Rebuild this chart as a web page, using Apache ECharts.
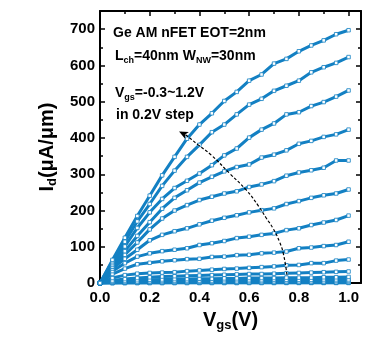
<!DOCTYPE html>
<html>
<head>
<meta charset="utf-8">
<script src="https://cdn.jsdelivr.net/npm/echarts@6/dist/echarts.min.js"></script>
<style>html,body{margin:0;padding:0;background:#fff}#c{width:389px;height:337px}</style>
</head>
<body>
<div id="c"></div>
<script>
const vds = [0,0.05,0.1,0.15,0.2,0.25,0.3,0.35,0.4,0.45,0.5,0.55,0.6,0.65,0.7,0.75,0.8,0.85,0.9,0.95,1.0];
const id_120 = [0,64,125,185,241,297,348,398,437,468,502,527,558,575,605,618,639,655,669,686,697];
const id_110 = [0,60,114,170,218,268,310,348,381,416,437,465,492,508,530,544,558,581,595,607,623];
const id_100 = [0,55,101,152,195,232,262,282,302,325,352,371,401,423,440,465,471,488,499,514,531];
const id_090 = [0,50,88,130,168,205,235,256,277,293,308,320,327,346,354,366,384,392,403,410,423];
const id_080 = [0,45,78,112,148,178,200,215,229,238,247,253,265,272,281,296,305,311,318,338,338];
const id_070 = [0,40,67,92,118,133,143,151,162,172,180,187,195,201,206,218,226,235,242,247,258];
const id_060 = [0,33,55,73,82,88,92,96,105,110,116,124,128,133,137,146,151,160,167,174,186];
const id_050 = [0,25,40,52,56,60,63,66,67,72,73,77,78,82,84,87,96,98,102,105,114];
const id_040 = [0,14,22,26,28,29,30,33,35,37,39,40,42,44,46,49,50,55,55,62,65];
const id_030 = [0,7,11,14,16,18,19,20,21,22,23,24,25,25,26,27,28,29,30,31,32];
const id_020 = [0,4,6,8,9,10,11,11,12,12,13,13,14,14,14,15,15,15,16,16,17];
const id_010 = [0,2,3,4,5,6,6,7,7,7,8,8,8,8,9,9,9,9,10,10,10];
const id_000 = [0,1,2,2,3,3,3,4,4,4,4,4,5,5,5,5,5,5,5,6,6];
const id_m10 = [0,0.5,1,1,1.5,1.5,1.5,2,2,2,2,2,2,2,2.5,2.5,2.5,2.5,2.5,2.5,3];
const id_m20 = [0,0.2,0.4,0.5,0.6,0.6,0.7,0.7,0.8,0.8,0.8,0.8,0.9,0.9,0.9,1,1,1,1,1,1];
const id_m30 = [0,0.1,0.1,0.2,0.2,0.2,0.2,0.3,0.3,0.3,0.3,0.3,0.3,0.3,0.3,0.4,0.4,0.4,0.4,0.4,0.4];
const curves = [id_m30,id_m20,id_m10,id_000,id_010,id_020,id_030,id_040,id_050,id_060,id_070,id_080,id_090,id_100,id_110,id_120];
// dashed arrow guide path (data coords)
const arrowX = [0.752,0.738,0.722,0.696,0.668,0.640,0.589,0.522,0.449,0.395,0.345,0.318];
const arrowY = [23,80,114,151,180,210,256,302,352,381,408,418];
const xTicks = ['0.0','0.2','0.4','0.6','0.8','1.0'];
const yTicks = ['0','100','200','300','400','500','600','700'];

const BLUE = '#1380c3';
const FONT = "'Liberation Sans', Arial, sans-serif";
const chart = echarts.init(document.getElementById('c'), null, {renderer:'canvas'});

const series = curves.map(c => ({
  type:'line', xAxisIndex:0, yAxisIndex:0,
  data: c.map((v,i)=>[vds[i], v]),
  symbol:'rect', symbolSize:3.5, showAllSymbol:true,
  lineStyle:{color:BLUE, width:3},
  itemStyle:{color:'#fff', borderColor:BLUE, borderWidth:0.8},
  emphasis:{disabled:true}, silent:true, z:2
}));
const arrData = arrowX.map((x,i)=>{
  if (i === arrowX.length-1) return {value:[x, arrowY[i]], symbol:'arrow', symbolSize:[6,9], symbolRotate:63};
  return {value:[x, arrowY[i]], symbol:'none'};
});
series.push({
  type:'line', data: arrData, smooth:true, showSymbol:true, symbol:'none',
  lineStyle:{color:'#000', width:1.2, type:[3,2]},
  itemStyle:{color:'#000'}, silent:true, z:5
});

function xFmt(v){ const k = Math.round(v*10); if (Math.abs(v*10-k)>1e-6 || k%2) return ''; return xTicks[k/2] || ''; }
function yFmt(v){ if (v%100) return ''; return yTicks[v/100] || ''; }

const tickCommon = {inside:true, length:5, lineStyle:{color:'#000', width:1.5}};
const minorCommon = {show:true, splitNumber:2, length:3, lineStyle:{color:'#000', width:1.5}};
const lineCommon = {show:true, onZero:false, lineStyle:{color:'#000', width:2}};
const labelStyle = {fontSize:15, fontWeight:'bold', color:'#000', fontFamily:FONT};

chart.setOption({
  animation:false,
  backgroundColor:'#fff',
  grid:{left:100, right:28, top:11, bottom:52, containLabel:false},
  xAxis:[
    {type:'value', min:0, max:1.05, interval:0.2, position:'bottom',
     axisLine:lineCommon, axisTick:tickCommon, minorTick:minorCommon, splitLine:{show:false},
     axisLabel:Object.assign({formatter:xFmt, margin:7, showMaxLabel:false}, labelStyle),
     name:'{m|V}{s|gs}{m|(V)}', nameLocation:'middle', nameGap:22,
     nameTextStyle:{rich:{
       m:{fontSize:20, fontWeight:'bold', color:'#000', fontFamily:FONT, lineHeight:24, verticalAlign:'middle'},
       s:{fontSize:13, fontWeight:'bold', color:'#000', fontFamily:FONT, lineHeight:12, verticalAlign:'bottom'}}}},
    {type:'value', min:0, max:1.05, interval:0.2, position:'top',
     axisLine:lineCommon, axisTick:tickCommon, minorTick:minorCommon, splitLine:{show:false}, axisLabel:{show:false}}
  ],
  yAxis:[
    {type:'value', min:0, max:750, interval:100, position:'left',
     axisLine:lineCommon, axisTick:tickCommon, minorTick:minorCommon, splitLine:{show:false},
     axisLabel:Object.assign({formatter:yFmt, margin:5, showMaxLabel:false}, labelStyle),
     name:'{m|I}{s|d}{m|(μA/μm)}', nameLocation:'middle', nameGap:40,
     nameTextStyle:{rich:{
       m:{fontSize:20, fontWeight:'bold', color:'#000', fontFamily:FONT, lineHeight:24, verticalAlign:'middle'},
       s:{fontSize:13, fontWeight:'bold', color:'#000', fontFamily:FONT, lineHeight:12, verticalAlign:'bottom'}}}},
    {type:'value', min:0, max:750, interval:100, position:'right',
     axisLine:lineCommon, axisTick:tickCommon, minorTick:minorCommon, splitLine:{show:false}, axisLabel:{show:false}}
  ],
  graphic:[
    {type:'text', x:113, y:33, silent:true, z:10, style:{text:'Ge AM nFET EOT=2nm', font:"bold 14px "+FONT, fill:'#000', verticalAlign:'middle'}},
    {type:'text', x:115, y:56, silent:true, z:10, style:{
      text:'{a|L}{b|ch}{a|=40nm W}{b|NW}{a|=30nm}', verticalAlign:'middle',
      rich:{a:{font:"bold 14px "+FONT, fill:'#000', lineHeight:18, verticalAlign:'middle'},
            b:{font:"bold 9px "+FONT, fill:'#000', lineHeight:9, verticalAlign:'bottom'}}}},
    {type:'text', x:115, y:93, silent:true, z:10, style:{
      text:'{a|V}{b|gs}{a|=-0.3~1.2V}', verticalAlign:'middle',
      rich:{a:{font:"bold 14px "+FONT, fill:'#000', lineHeight:18, verticalAlign:'middle'},
            b:{font:"bold 9px "+FONT, fill:'#000', lineHeight:9, verticalAlign:'bottom'}}}},
    {type:'text', x:116, y:115, silent:true, z:10, style:{text:'in 0.2V step', font:"bold 14px "+FONT, fill:'#000', verticalAlign:'middle'}}
  ],
  series: series
});
</script>
</body>
</html>
